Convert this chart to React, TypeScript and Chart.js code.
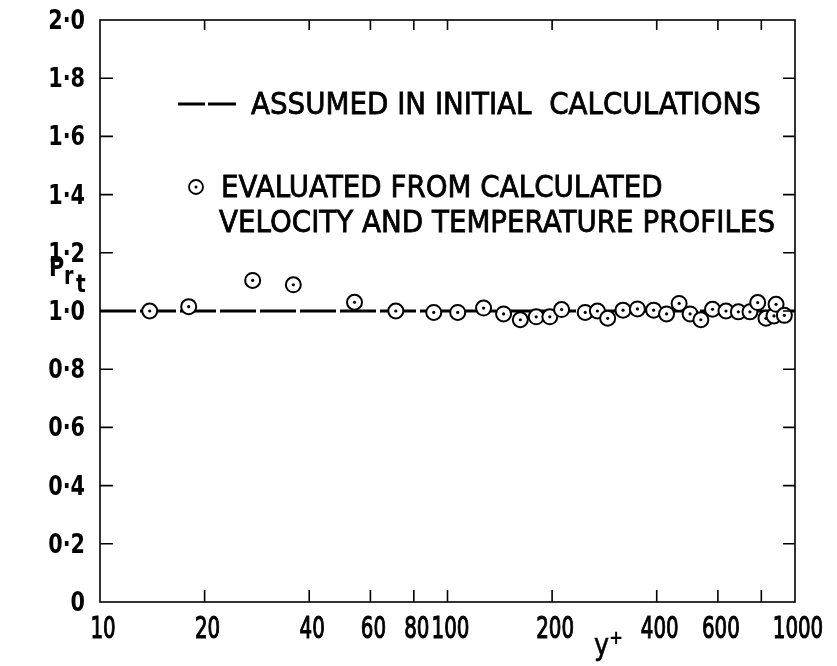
import React, { useEffect, useRef } from 'react';
import { Chart, registerables } from 'chart.js';

Chart.register(...registerables);

// y+ positions and evaluated turbulent Prandtl numbers
const yPlus = [13.9, 18, 27.5, 36, 54, 71, 91.3, 107, 127, 145, 162, 180, 197, 213, 249, 270, 289, 320, 352, 392, 427, 464, 499, 536, 579, 633, 687, 742, 781, 825, 870, 882, 932];
const prtEvaluated = [1.0, 1.015, 1.105, 1.09, 1.03, 1.0, 0.995, 0.995, 1.01, 0.99, 0.97, 0.98, 0.98, 1.005, 0.995, 1.0, 0.975, 1.003, 1.007, 1.003, 0.99, 1.026, 0.99, 0.97, 1.006, 1.0, 0.997, 0.997, 1.029, 0.975, 0.983, 1.023, 0.985];

// assumed value used in initial calculations
const assumedX = [10, 1000];
const assumedY = [1.0, 1.0];

// axis ticks
const xTickValues = [10, 20, 40, 60, 80, 100, 200, 400, 600, 800, 1000];
const xTickLabels = ['10', '20', '40', '60', '80', '100', '200', '400', '600', '', '1000'];
const yTickValues = [0, 0.2, 0.4, 0.6, 0.8, 1.0, 1.2, 1.4, 1.6, 1.8, 2.0];
const yTickLabels = ['0', '0·2', '0·4', '0·6', '0·8', '1·0', '1·2', '1·4', '1·6', '1·8', '2·0'];

const legendLine1 = 'ASSUMED IN INITIAL  CALCULATIONS';
const legendLine2 = 'EVALUATED FROM CALCULATED';
const legendLine3 = 'VELOCITY AND TEMPERATURE PROFILES';

const FAMILY = "'DejaVu Sans', sans-serif";

const decorPlugin = {
  id: 'decor',
  afterDraw(chart: any) {
    const { ctx, chartArea: a, scales } = chart;
    ctx.save();
    ctx.strokeStyle = '#000';
    ctx.fillStyle = '#000';
    ctx.lineWidth = 1.6;
    ctx.strokeRect(a.left, a.top, a.right - a.left, a.bottom - a.top);
    ctx.beginPath();
    scales.x.ticks.forEach((t: any) => {
      const px = scales.x.getPixelForValue(t.value);
      if (px <= a.left + 2 || px >= a.right - 2) return;
      ctx.moveTo(px, a.bottom);
      ctx.lineTo(px, a.bottom - 12);
      ctx.moveTo(px, a.top);
      ctx.lineTo(px, a.top + 10);
    });
    scales.y.ticks.forEach((t: any) => {
      const py = scales.y.getPixelForValue(t.value);
      if (py <= a.top + 2 || py >= a.bottom - 2) return;
      ctx.moveTo(a.left, py);
      ctx.lineTo(a.left + 13, py);
      ctx.moveTo(a.right, py);
      ctx.lineTo(a.right - 12, py);
    });
    ctx.stroke();

    const drawScaled = (txt: string, x: number, y: number, sx: number, align: string, stroke = 0) => {
      ctx.save();
      ctx.translate(x, y);
      ctx.scale(sx, 1);
      ctx.textAlign = align;
      ctx.fillText(txt, 0, 0);
      if (stroke > 0) {
        ctx.lineWidth = stroke;
        ctx.strokeText(txt, 0, 0);
      }
      ctx.restore();
    };
    ctx.textBaseline = 'alphabetic';

    // x tick labels, placed at the scale's tick pixels
    ctx.font = `31px ${FAMILY}`;
    scales.x.ticks.forEach((t: any) => {
      const i = xTickValues.indexOf(Number(t.value));
      const label = i >= 0 ? xTickLabels[i] : '';
      if (!label) return;
      const px = scales.x.getPixelForValue(t.value);
      drawScaled(label, px + 3, a.bottom + 36, 0.64, 'center', 1.2);
    });

    // y tick labels
    ctx.font = `bold 26px ${FAMILY}`;
    scales.y.ticks.forEach((t: any) => {
      const i = yTickValues.findIndex((v) => Math.abs(v - Number(t.value)) < 1e-6);
      const label = i >= 0 ? yTickLabels[i] : '';
      const py = scales.y.getPixelForValue(t.value);
      drawScaled(label, a.left - 15, py + 9, 0.8, 'right');
    });

    // legend
    ctx.font = `30px ${FAMILY}`;
    const w3 = ctx.measureText(legendLine3).width;
    const sx = 556 / w3;
    ctx.lineWidth = 3;
    ctx.beginPath();
    ctx.moveTo(178, 104);
    ctx.lineTo(205, 104);
    ctx.moveTo(208, 104);
    ctx.lineTo(236, 104);
    ctx.stroke();
    drawScaled(legendLine1, 251, 114, sx, 'left', 0.8);
    ctx.lineWidth = 1.8;
    ctx.beginPath();
    ctx.arc(196, 187, 7, 0, Math.PI * 2);
    ctx.stroke();
    ctx.beginPath();
    ctx.arc(196, 187, 1.5, 0, Math.PI * 2);
    ctx.fill();
    drawScaled(legendLine2, 221, 197, sx, 'left', 0.8);
    drawScaled(legendLine3, 219, 232, sx, 'left', 0.8);

    // y axis title Pr_t
    ctx.font = `bold 26px ${FAMILY}`;
    drawScaled('P', 49, 276, 0.8, 'left');
    ctx.font = `bold 24px ${FAMILY}`;
    drawScaled('r', 64, 284, 0.8, 'left');
    drawScaled('t', 76, 292, 0.85, 'left');

    // x axis title y+
    ctx.font = `30px ${FAMILY}`;
    drawScaled('y', 594, 655, 0.85, 'left', 0.6);
    ctx.font = `bold 20px ${FAMILY}`;
    drawScaled('+', 609, 644, 0.85, 'left');
    ctx.restore();
  },
};

export default function App() {
  const ref = useRef<HTMLCanvasElement | null>(null);
  useEffect(() => {
    document.body.style.margin = '0';
    const canvas = ref.current;
    if (!canvas) return;
    const evaluated = yPlus.map((x, i) => ({ x, y: prtEvaluated[i] }));
    const assumed = assumedX.map((x, i) => ({ x, y: assumedY[i] }));
    const chart = new Chart(canvas, {
      type: 'scatter',
      data: {
        datasets: [
          {
            label: 'centre',
            data: evaluated,
            pointRadius: 1.6,
            pointBackgroundColor: '#000',
            pointBorderWidth: 0,
          },
          {
            label: 'EVALUATED FROM CALCULATED VELOCITY AND TEMPERATURE PROFILES',
            data: evaluated,
            pointRadius: 7.5,
            pointBackgroundColor: '#fff',
            pointBorderColor: '#000',
            pointBorderWidth: 2,
          },
          {
            label: 'ASSUMED IN INITIAL CALCULATIONS',
            data: assumed,
            showLine: true,
            borderColor: '#000',
            borderWidth: 3,
            borderDash: [36, 4],
            pointRadius: 0,
          },
        ] as any,
      },
      options: {
        responsive: false,
        animation: false,
        devicePixelRatio: 1,
        layout: { padding: { top: 20, right: 42, left: 0, bottom: 0 } },
        plugins: { legend: { display: false }, tooltip: { enabled: false } },
        scales: {
          x: {
            type: 'logarithmic',
            min: 10,
            max: 1000,
            afterFit: (s: any) => { s.height = 64; },
            afterBuildTicks: (s: any) => { s.ticks = xTickValues.map((v) => ({ value: v })); },
            grid: { display: false, drawTicks: false },
            border: { display: false },
            ticks: { display: false, autoSkip: false },
          },
          y: {
            min: 0,
            max: 2,
            afterFit: (s: any) => { s.width = 100; },
            afterBuildTicks: (s: any) => { s.ticks = yTickValues.map((v) => ({ value: v })); },
            grid: { display: false, drawTicks: false },
            border: { display: false },
            ticks: { display: false },
          },
        },
      } as any,
      plugins: [decorPlugin],
    });
    return () => chart.destroy();
  }, []);
  return <canvas ref={ref} width={837} height={666} style={{ display: 'block', width: 837, height: 666 }} />;
}
